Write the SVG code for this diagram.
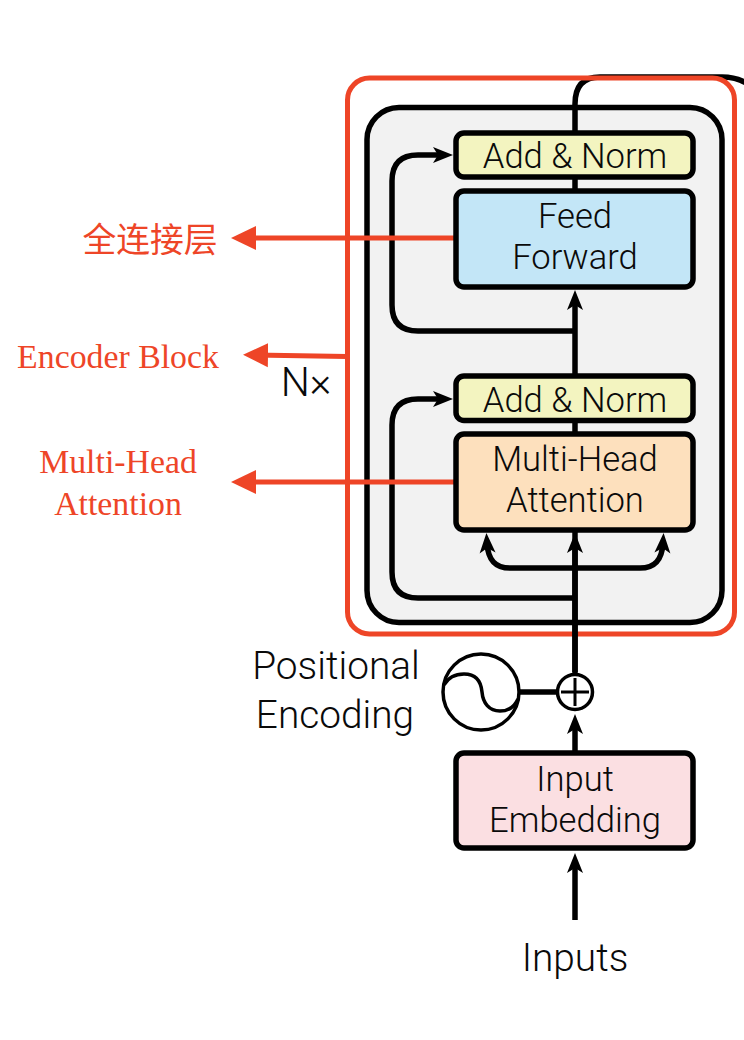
<svg xmlns="http://www.w3.org/2000/svg" width="744" height="1040" viewBox="0 0 744 1040">
<style>
.box{stroke:#000;stroke-width:5.500}
.k{fill:none;stroke:#000;stroke-width:5.500}
.t{font-family:Roboto,"Liberation Sans",sans-serif;font-weight:300;font-size:34.600px;fill:#0a0a0a;text-anchor:middle}
.b{font-size:38.800px}
.r{font-family:"Liberation Serif","Noto Sans CJK SC",serif;font-size:33.800px;fill:#ee4527;text-anchor:middle}
.rl{fill:none;stroke:#ee4527;stroke-width:5}
</style>
<defs>
<marker id="ah" markerUnits="userSpaceOnUse" markerWidth="24" markerHeight="20" refX="12" refY="10" orient="auto"><path d="M22 10 L2 2 L7 10 L2 18 Z" fill="#000"/></marker>
<marker id="rh" markerUnits="userSpaceOnUse" markerWidth="26" markerHeight="26" refX="15" refY="13" orient="auto"><path d="M25 13 L0 1 L0 25 Z" fill="#ee4527"/></marker>
</defs>
<rect width="744" height="1040" fill="#fff"/>
<g id="encoder-stack"><rect x="367" y="107.500" width="355" height="515" rx="32" fill="#f2f2f2" class="box"/></g>
<g id="connectors-output"><path class="k" d="M575 133V104Q575 77 600 77H722Q736 77 746 83"/></g>
<g id="encoder-block"><rect x="347.500" y="78" width="387" height="556" rx="22" class="rl"/></g>
<g id="connectors">
<path class="k" d="M575 672V300" marker-end="url(#ah)"/>
<path class="k" d="M575 190V177"/>
<path class="k" d="M575 331H418Q392 331 392 305V181Q392 155 418 155H443" marker-end="url(#ah)"/>
<path class="k" d="M575 598H418Q392 598 392 572V425Q392 399 418 399H443" marker-end="url(#ah)"/>
<path class="k" d="M640 568C655 568 662 560 663 543" marker-end="url(#ah)"/>
<path class="k" d="M640 568H510C495 568 488 560 487 543" marker-end="url(#ah)"/>
<path class="k" d="M575 680V543" marker-end="url(#ah)"/>
<path class="k" d="M520 692H557"/>
<path class="k" d="M575 752V724" marker-end="url(#ah)"/>
<path class="k" d="M575 920V863" marker-end="url(#ah)"/>
<path class="rl" d="M456 238H241" marker-end="url(#rh)"/>
<path class="rl" d="M347 356.500L253 355" marker-end="url(#rh)"/>
<path class="rl" d="M456 482H241" marker-end="url(#rh)"/>
</g>
<g id="add-norm-2"><rect x="456" y="133" width="237" height="44" rx="8" fill="#f3f4c0" class="box"/><text class="t" x="575" y="168">Add &amp; Norm</text></g>
<g id="feed-forward"><rect x="456" y="191" width="237" height="96" rx="8" fill="#c3e6f7" class="box"/><text class="t" x="575" y="228">Feed</text><text class="t" x="575" y="269">Forward</text></g>
<g id="add-norm-1"><rect x="456" y="376" width="237" height="44.500" rx="8" fill="#f3f4c0" class="box"/><text class="t" x="575" y="412">Add &amp; Norm</text></g>
<g id="multi-head-attention"><rect x="456" y="434" width="237" height="96" rx="8" fill="#fde0bd" class="box"/><text class="t" x="575" y="471">Multi-Head</text><text class="t" x="575" y="512">Attention</text></g>
<g id="input-embedding"><rect x="456" y="753" width="237" height="95" rx="8" fill="#fbdfe2" class="box"/><text class="t" x="575" y="791">Input</text><text class="t" x="575" y="832">Embedding</text></g>
<g id="positional-encoding"><circle cx="481" cy="692" r="38" fill="#fff" stroke="#000" stroke-width="3.500"/><path d="M444 685C449 676 456 674 464 674C476 674 481 681 482 692C483 703 489 711 500 711C508 711 514 708 518 699" fill="none" stroke="#000" stroke-width="3.500"/><text class="t b" x="336" y="679">Positional</text><text class="t b" x="335" y="728">Encoding</text></g>
<g id="add"><circle cx="575" cy="692" r="17.500" fill="#fff" stroke="#000" stroke-width="3.500"/><path d="M575 678V706M561 692H589" stroke="#000" stroke-width="3"/></g>
<g id="inputs"><text class="t b" x="575" y="971">Inputs</text></g>
<g id="nx"><text class="t b" x="306" y="396" style="font-size:41px">N×</text></g>
<g id="labels">
<text class="r" x="150" y="252">全连接层</text>
<text class="r" x="118" y="368">Encoder Block</text>
<text class="r" x="118" y="473">Multi-Head</text>
<text class="r" x="118" y="515">Attention</text>
</g>
</svg>
